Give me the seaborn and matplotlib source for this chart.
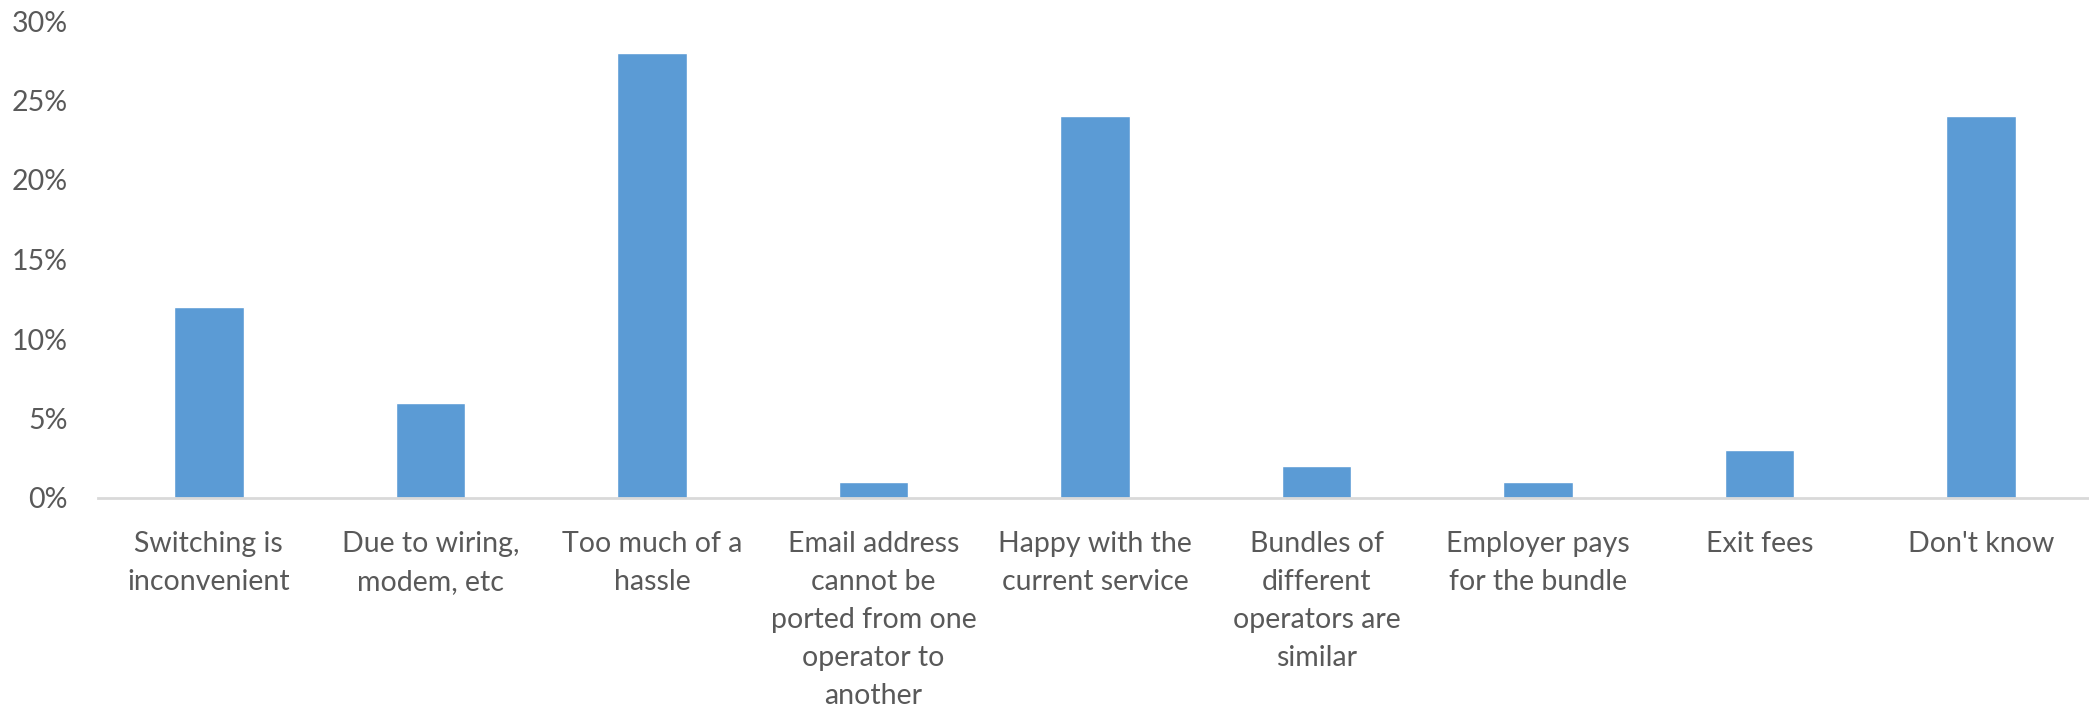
import matplotlib
matplotlib.use("Agg")
import matplotlib.pyplot as plt
import seaborn as sns
import pandas as pd
from matplotlib.ticker import PercentFormatter

categories = [
    "Switching is\ninconvenient",
    "Due to wiring,\nmodem, etc",
    "Too much of a\nhassle",
    "Email address\ncannot be\nported from one\noperator to\nanother",
    "Happy with the\ncurrent service",
    "Bundles of\ndifferent\noperators are\nsimilar",
    "Employer pays\nfor the bundle",
    "Exit fees",
    "Don't know",
]
shares = [12, 6, 28, 1, 24, 2, 1, 3, 24]
y_ticks = [0, 5, 10, 15, 20, 25, 30]

sns.set_theme(style="white")
plt.rcParams["font.family"] = ["Lato", "DejaVu Sans"]

df = pd.DataFrame({"reason": categories, "share": shares})

fig = plt.figure(figsize=(20.89, 7.09), dpi=100)
ax = fig.add_axes([98 / 2089, 211 / 709, (2092 - 98) / 2089, (498 - 21) / 709])

sns.barplot(data=df, x="reason", y="share", color="#5B9BD5", width=0.314,
            saturation=1, ax=ax)

ax.set_ylim(0, 30)
ax.set_xlim(-0.5, len(categories) - 0.5)
ax.set_yticks(y_ticks)
ax.yaxis.set_major_formatter(PercentFormatter(decimals=0))
ax.set_xlabel("")
ax.set_ylabel("")

for side in ["top", "right", "left"]:
    ax.spines[side].set_visible(False)
ax.spines["bottom"].set_color("#D9D9D9")
ax.spines["bottom"].set_linewidth(2)

ax.tick_params(axis="both", length=0, colors="#595959", labelsize=20.5)
ax.tick_params(axis="x", pad=24)
ax.tick_params(axis="y", pad=22)
for lbl in ax.get_xticklabels():
    lbl.set_linespacing(1.57)
    lbl.set_verticalalignment("top")

fig.savefig("out.png", dpi=100, facecolor="white")
